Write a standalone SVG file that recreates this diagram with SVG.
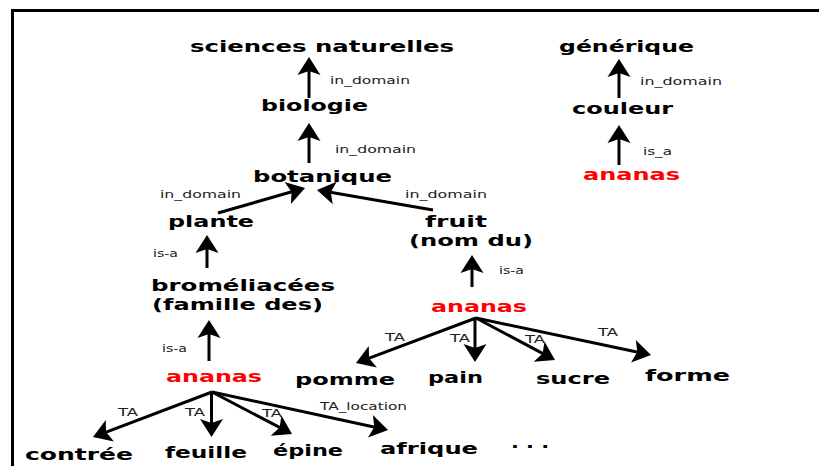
<svg xmlns="http://www.w3.org/2000/svg" width="819" height="466" viewBox="0 0 819 466">
<defs>
<style>
.n{font-family:"DejaVu Sans","Liberation Sans",sans-serif;font-weight:bold;font-size:16px;fill:#000}
.r{fill:#ff0000}
.l{font-family:"DejaVu Sans","Liberation Sans",sans-serif;font-size:11px;fill:#222}
.c{stroke:#000;stroke-width:3;fill:none;marker-end:url(#ah)}
</style>
<marker id="ah" markerUnits="userSpaceOnUse" orient="auto" refX="-12" refY="0" markerWidth="30" markerHeight="30" overflow="visible">
<path d="M0,0 L-18,-11.5 L-14,0 L-18,11.5 Z" fill="#000"/>
</marker>
</defs>
<rect width="819" height="466" fill="#fff"/>
<g id="frame" stroke="#000" stroke-width="3" fill="none">
<line x1="11" y1="10.5" x2="819" y2="10.5"/>
<line x1="12.5" y1="9" x2="12.5" y2="466"/>
</g>
<g id="connectors">
<line class="c" x1="309" y1="98" x2="309" y2="69"/>
<line class="c" x1="309" y1="163" x2="309" y2="135"/>
<line class="c" x1="619" y1="98" x2="619" y2="71"/>
<line class="c" x1="619" y1="165" x2="619" y2="137"/>
<line class="c" x1="207" y1="268" x2="207" y2="247"/>
<line class="c" x1="209" y1="361" x2="209" y2="332"/>
<line class="c" x1="472" y1="287" x2="472" y2="267"/>
<line class="c" x1="218" y1="213" x2="293.5" y2="191.3"/>
<line class="c" x1="433" y1="210" x2="328.8" y2="192"/>
<line class="c" x1="212" y1="392" x2="104.2" y2="432.8"/>
<line class="c" x1="211.5" y1="392" x2="211.5" y2="425"/>
<line class="c" x1="212" y1="392" x2="281.4" y2="428.4"/>
<line class="c" x1="212" y1="392" x2="376.3" y2="427.5"/>
<line class="c" x1="476" y1="318" x2="367.2" y2="358.8"/>
<line class="c" x1="475" y1="318" x2="475" y2="350"/>
<line class="c" x1="476" y1="318" x2="544.4" y2="354.4"/>
<line class="c" x1="476" y1="318" x2="639.3" y2="352.5"/>
</g>
<g id="labels">
<text class="l" x="330" y="84" textLength="80" lengthAdjust="spacingAndGlyphs">in_domain</text>
<text class="l" x="335" y="153" textLength="81" lengthAdjust="spacingAndGlyphs">in_domain</text>
<text class="l" x="160" y="198" textLength="81" lengthAdjust="spacingAndGlyphs">in_domain</text>
<text class="l" x="405" y="198" textLength="82" lengthAdjust="spacingAndGlyphs">in_domain</text>
<text class="l" x="640" y="85" textLength="82" lengthAdjust="spacingAndGlyphs">in_domain</text>
<text class="l" x="643" y="155" textLength="29" lengthAdjust="spacingAndGlyphs">is_a</text>
<text class="l" x="153" y="257" textLength="25" lengthAdjust="spacingAndGlyphs">is-a</text>
<text class="l" x="162" y="352" textLength="25" lengthAdjust="spacingAndGlyphs">is-a</text>
<text class="l" x="499" y="274" textLength="25" lengthAdjust="spacingAndGlyphs">is-a</text>
<text class="l" x="118" y="416" textLength="20" lengthAdjust="spacingAndGlyphs">TA</text>
<text class="l" x="185" y="416" textLength="20" lengthAdjust="spacingAndGlyphs">TA</text>
<text class="l" x="262" y="417" textLength="20" lengthAdjust="spacingAndGlyphs">TA</text>
<text class="l" x="320" y="410" textLength="87" lengthAdjust="spacingAndGlyphs">TA_location</text>
<text class="l" x="385" y="341" textLength="20" lengthAdjust="spacingAndGlyphs">TA</text>
<text class="l" x="450" y="342" textLength="20" lengthAdjust="spacingAndGlyphs">TA</text>
<text class="l" x="525" y="343" textLength="20" lengthAdjust="spacingAndGlyphs">TA</text>
<text class="l" x="598" y="336" textLength="20" lengthAdjust="spacingAndGlyphs">TA</text>
</g>
<g id="sciences-naturelles"><text class="n" x="190" y="52" textLength="264" lengthAdjust="spacingAndGlyphs">sciences naturelles</text></g>
<g id="biologie"><text class="n" x="261" y="111" textLength="107" lengthAdjust="spacingAndGlyphs">biologie</text></g>
<g id="botanique"><text class="n" x="253" y="182" textLength="139" lengthAdjust="spacingAndGlyphs">botanique</text></g>
<g id="plante"><text class="n" x="168" y="227" textLength="86" lengthAdjust="spacingAndGlyphs">plante</text></g>
<g id="generique"><text class="n" x="559" y="52" textLength="135" lengthAdjust="spacingAndGlyphs">générique</text></g>
<g id="couleur"><text class="n" x="572" y="114" textLength="101" lengthAdjust="spacingAndGlyphs">couleur</text></g>
<g id="ananas-couleur"><text class="n r" x="583" y="180" textLength="97" lengthAdjust="spacingAndGlyphs">ananas</text></g>
<g id="fruit"><text class="n" x="425" y="227" textLength="62" lengthAdjust="spacingAndGlyphs">fruit</text><text class="n" x="409" y="246" textLength="124" lengthAdjust="spacingAndGlyphs">(nom du)</text></g>
<g id="bromeliacees"><text class="n" x="151" y="291" textLength="184" lengthAdjust="spacingAndGlyphs">broméliacées</text><text class="n" x="152" y="310" textLength="171" lengthAdjust="spacingAndGlyphs">(famille des)</text></g>
<g id="ananas-plante"><text class="n r" x="166" y="382" textLength="96" lengthAdjust="spacingAndGlyphs">ananas</text></g>
<g id="ananas-fruit"><text class="n r" x="431" y="312" textLength="96" lengthAdjust="spacingAndGlyphs">ananas</text></g>
<g id="pomme"><text class="n" x="295" y="385" textLength="100" lengthAdjust="spacingAndGlyphs">pomme</text></g>
<g id="pain"><text class="n" x="428" y="383" textLength="55" lengthAdjust="spacingAndGlyphs">pain</text></g>
<g id="sucre"><text class="n" x="536" y="384" textLength="74" lengthAdjust="spacingAndGlyphs">sucre</text></g>
<g id="forme"><text class="n" x="645" y="381" textLength="85" lengthAdjust="spacingAndGlyphs">forme</text></g>
<g id="contree"><text class="n" x="25" y="460" textLength="108" lengthAdjust="spacingAndGlyphs">contrée</text></g>
<g id="feuille"><text class="n" x="165" y="458" textLength="82" lengthAdjust="spacingAndGlyphs">feuille</text></g>
<g id="epine"><text class="n" x="273" y="456" textLength="70" lengthAdjust="spacingAndGlyphs">épine</text></g>
<g id="afrique"><text class="n" x="380" y="454" textLength="98" lengthAdjust="spacingAndGlyphs">afrique</text></g>
<g id="etc"><text class="n" x="511" y="448" textLength="38" lengthAdjust="spacingAndGlyphs">. . .</text></g>
</svg>
